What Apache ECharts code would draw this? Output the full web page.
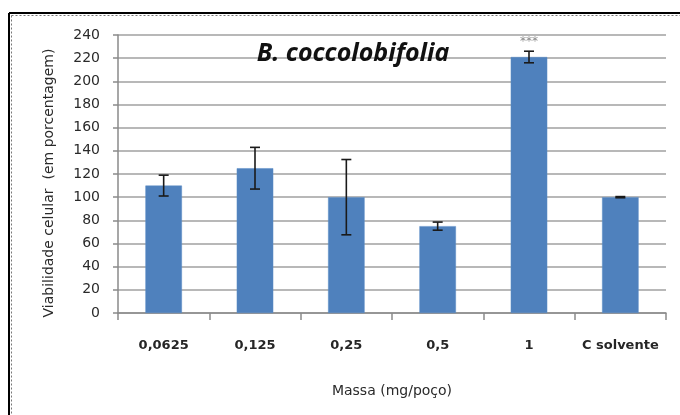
<!DOCTYPE html>
<html>
<head>
<meta charset="utf-8">
<script src="https://cdn.jsdelivr.net/npm/echarts@6/dist/echarts.min.js"></script>
<style>html,body{margin:0;padding:0;background:#fff}#c{width:680px;height:415px}</style>
</head>
<body>
<div id="c"></div>
<script>
var categories = ['0,0625', '0,125', '0,25', '0,5', '1', 'C solvente'];
var viability = [110, 125, 100, 75, 221, 100];
var errors = [9, 18, 32.5, 3.5, 5, 0.5];
var annotations = ['', '', '', '', '***', ''];
var yTicks = [0, 20, 40, 60, 80, 100, 120, 140, 160, 180, 200, 220, 240];
var chartTitle = 'B. coccolobifolia';
var xName = 'Massa (mg/poço)';
var yName = 'Viabilidade celular  (em porcentagem)';

var errorData = viability.map(function (v, i) { return [i, v - errors[i], v + errors[i]]; });

var chart = echarts.init(document.getElementById('c'));
chart.setOption({
  animation: false,
  backgroundColor: '#fff',
  title: {
    text: chartTitle,
    left: 348, top: 36, textAlign: 'center',
    textStyle: { fontFamily: 'Open Sans', fontStyle: 'italic', fontWeight: 'bold', fontSize: 25, color: '#111' }
  },
  grid: { left: 118, right: 14, top: 35, bottom: 102 },
  xAxis: {
    type: 'category',
    data: categories,
    name: xName,
    nameLocation: 'middle',
    nameGap: 71,
    nameTextStyle: { fontFamily: 'DejaVu Sans', fontSize: 14, color: '#2a2a2a' },
    axisLine: { lineStyle: { color: '#8a8a8a', width: 1.5 } },
    axisTick: { show: true, interval: 0, length: 7, alignWithLabel: false, lineStyle: { color: '#8a8a8a', width: 1.5 } },
    axisLabel: { interval: 0, margin: 26, fontFamily: 'DejaVu Sans', fontWeight: 'bold', fontSize: 13, color: '#262626' },
    splitLine: { show: false }
  },
  yAxis: {
    type: 'value',
    min: yTicks[0], max: yTicks[yTicks.length - 1], interval: yTicks[1] - yTicks[0],
    name: yName,
    nameLocation: 'middle',
    nameGap: 62,
    nameTextStyle: { fontFamily: 'DejaVu Sans', fontSize: 14, color: '#2a2a2a', padding: [0, 18, 0, 0] },
    axisLine: { show: true, lineStyle: { color: '#8a8a8a', width: 1.5 } },
    axisTick: { show: true, length: 5, lineStyle: { color: '#8a8a8a', width: 1.5 } },
    axisLabel: { margin: 18, fontFamily: 'DejaVu Sans', fontSize: 14, color: '#2a2a2a' },
    splitLine: { show: true, lineStyle: { color: '#a0a0a0', width: 1.5 } }
  },
  series: [
    {
      type: 'bar',
      data: viability,
      barWidth: '40%',
      itemStyle: { color: '#4F81BD', borderColor: '#5b8cc6', borderWidth: 0.5 },
      label: {
        show: true, position: 'top', distance: 9,
        formatter: function (p) { return annotations[p.dataIndex]; },
        fontFamily: 'DejaVu Sans', fontSize: 12, color: '#8a8a8a'
      },
      z: 2
    },
    {
      type: 'custom',
      data: errorData,
      z: 3,
      renderItem: function (params, api) {
        var x = api.value(0);
        var lo = api.coord([x, api.value(1)]);
        var hi = api.coord([x, api.value(2)]);
        var hw = 5;
        var st = { stroke: '#1a1a1a', lineWidth: 1.6 };
        return {
          type: 'group',
          children: [
            { type: 'line', shape: { x1: hi[0], y1: hi[1], x2: lo[0], y2: lo[1] }, style: st },
            { type: 'line', shape: { x1: hi[0] - hw, y1: hi[1], x2: hi[0] + hw, y2: hi[1] }, style: st },
            { type: 'line', shape: { x1: lo[0] - hw, y1: lo[1], x2: lo[0] + hw, y2: lo[1] }, style: st }
          ]
        };
      }
    }
  ],
  graphic: [
    { type: 'line', shape: { x1: 9, y1: 13, x2: 680, y2: 13 }, style: { stroke: '#000', lineWidth: 2 } },
    { type: 'line', shape: { x1: 9, y1: 13, x2: 9, y2: 415 }, style: { stroke: '#000', lineWidth: 2 } },
    { type: 'line', shape: { x1: 11.5, y1: 15.5, x2: 680, y2: 15.5 }, style: { stroke: '#777', lineWidth: 1, lineDash: [2, 2] } },
    { type: 'line', shape: { x1: 11.5, y1: 15.5, x2: 11.5, y2: 415 }, style: { stroke: '#777', lineWidth: 1, lineDash: [2, 2] } }
  ]
});
</script>
</body>
</html>
